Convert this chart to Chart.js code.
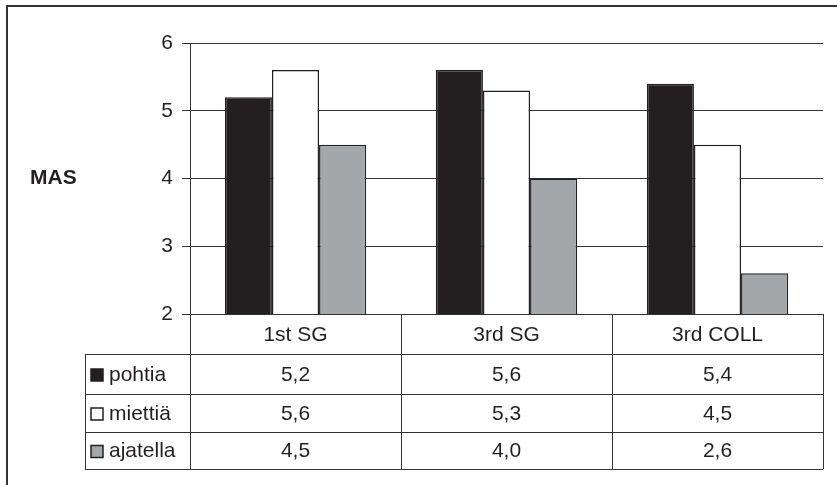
<!DOCTYPE html>
<html>
<head>
<meta charset="utf-8">
<script src="https://cdn.jsdelivr.net/npm/chart.js@4"></script>
<style>
  html, body { margin: 0; padding: 0; background: #fff; }
  canvas { display: block; }
</style>
</head>
<body>
<canvas id="chart" width="837" height="485"></canvas>
<script>
const categories = ["1st SG", "3rd SG", "3rd COLL"];
const seriesNames = ["pohtia", "miettiä", "ajatella"];
const pohtia = [5.2, 5.6, 5.4];
const miettia = [5.6, 5.3, 4.5];
const ajatella = [4.5, 4.0, 2.6];
const yTicks = [2, 3, 4, 5, 6];
const yLabel = "MAS";

const ink = "#231f20";
const lineCol = "#333333";
const fills = [ink, "#ffffff", "#a4a7a9"];
const font = "Liberation Sans, Arial, sans-serif";

function fmt(v) {
  return v.toFixed(1).replace(".", ",");
}

// frame, y label and the data table under the plot
const tablePlugin = {
  id: "dataTable",
  afterDraw(chart) {
    const ctx = chart.ctx;
    const x = chart.scales.x;
    const y = chart.scales.y;
    const area = chart.chartArea;
    const colW = (area.right - area.left) / categories.length;
    const legendLeft = 85;
    const top = y.getPixelForValue(yTicks[0]);
    const rows = [top, top + 40, top + 80, top + 118, top + 155];

    ctx.save();
    // outer frame (top and left only visible)
    ctx.strokeStyle = lineCol;
    ctx.lineWidth = 2;
    ctx.beginPath();
    ctx.moveTo(7, 485);
    ctx.lineTo(7, 6);
    ctx.lineTo(837, 6);
    ctx.stroke();

    // y label
    ctx.fillStyle = ink;
    ctx.font = "bold 21px " + font;
    ctx.textAlign = "left";
    ctx.textBaseline = "middle";
    ctx.fillText(yLabel, 30, y.getPixelForValue(4));

    // table lines
    ctx.strokeStyle = lineCol;
    ctx.lineWidth = 1;
    ctx.beginPath();
    for (let r = 1; r < rows.length; r++) {
      ctx.moveTo(legendLeft, rows[r] + 0.5);
      ctx.lineTo(area.right, rows[r] + 0.5);
    }
    ctx.moveTo(legendLeft + 0.5, rows[1]);
    ctx.lineTo(legendLeft + 0.5, rows[4]);
    for (let c = 0; c <= categories.length; c++) {
      const cx = Math.round(area.left + c * colW) + 0.5;
      ctx.moveTo(cx, top);
      ctx.lineTo(cx, rows[4]);
    }
    ctx.stroke();

    // header
    ctx.font = "21px " + font;
    ctx.textAlign = "center";
    categories.forEach((cat, i) => {
      ctx.fillText(cat, x.getPixelForValue(i), (rows[0] + rows[1]) / 2 + 1);
    });

    // rows
    chart.data.datasets.forEach((ds, r) => {
      const cy = (rows[r + 1] + rows[r + 2]) / 2 + 1;
      // legend key
      ctx.fillStyle = ds.backgroundColor;
      ctx.fillRect(91, cy - 6, 12, 12);
      ctx.strokeStyle = ink;
      ctx.lineWidth = 1.5;
      ctx.strokeRect(91, cy - 6, 12, 12);
      ctx.fillStyle = ink;
      ctx.textAlign = "left";
      ctx.fillText(ds.label, 109, cy);
      ctx.textAlign = "center";
      ds.data.forEach((v, i) => {
        ctx.fillText(fmt(v), x.getPixelForValue(i), cy);
      });
    });
    ctx.restore();
  }
};

const values = [pohtia, miettia, ajatella];

new Chart(document.getElementById("chart"), {
  type: "bar",
  data: {
    labels: categories,
    datasets: seriesNames.map((name, i) => ({
      label: name,
      data: values[i],
      backgroundColor: fills[i],
      borderColor: ink,
      borderWidth: 1.5,
      borderSkipped: "bottom",
      categoryPercentage: 0.67,
      barPercentage: 1.0
    }))
  },
  options: {
    responsive: false,
    animation: false,
    layout: { padding: { top: 43, right: 14, bottom: 171, left: 0 } },
    plugins: { legend: { display: false }, tooltip: { enabled: false } },
    scales: {
      x: { display: false },
      y: {
        min: yTicks[0],
        max: yTicks[yTicks.length - 1],
        afterFit(scale) { scale.width = 190; },
        afterBuildTicks(scale) { scale.ticks = yTicks.map(v => ({ value: v })); },
        ticks: {
          color: ink,
          font: { family: font, size: 21 },
          padding: 9
        },
        grid: { color: lineCol, lineWidth: 1, tickLength: 8 },
        border: { display: true, color: lineCol, width: 1 }
      }
    }
  },
  plugins: [tablePlugin]
});
</script>
</body>
</html>
